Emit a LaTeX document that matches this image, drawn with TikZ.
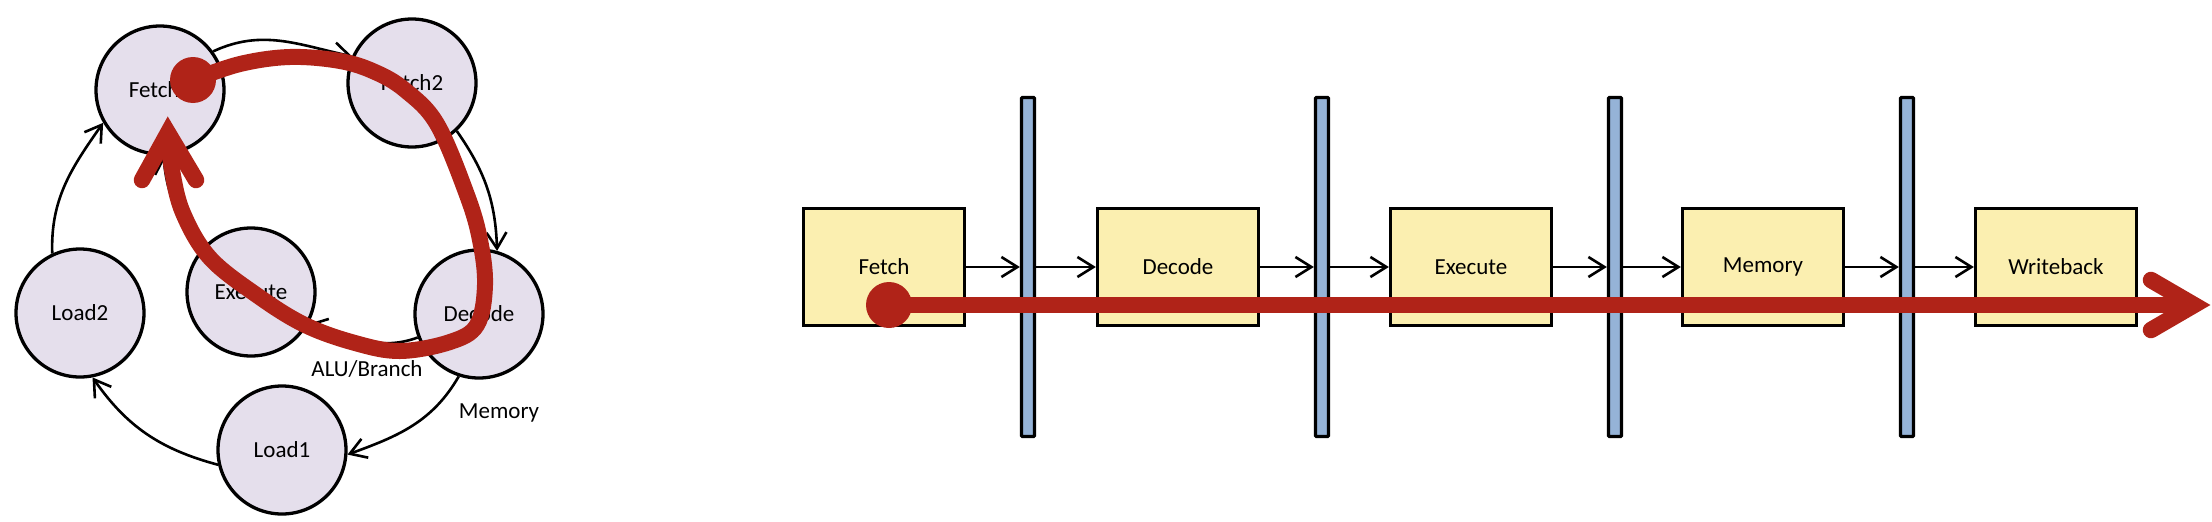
\documentclass[tikz,border=0pt]{standalone}
\usepackage{fontspec}
\setmainfont{Carlito}
\usetikzlibrary{arrows.meta}
\definecolor{lav}{RGB}{229,223,236}
\definecolor{yel}{RGB}{251,239,176}
\definecolor{blu}{RGB}{149,179,215}
\definecolor{rd}{RGB}{176,35,24}
\begin{document}
\begin{tikzpicture}[x=1pt,y=1pt,
 state/.style={circle,draw,line width=3.3pt,fill=lav,minimum size=128pt,inner sep=0pt,font=\fontsize{23}{28}\selectfont},
 stage/.style={rectangle,draw,line width=3.3pt,fill=yel,minimum width=161pt,minimum height=117pt,inner sep=0pt,font=\fontsize{23}{28}\selectfont},
 latch/.style={rectangle,draw,line width=3.3pt,fill=blu,minimum width=13pt,minimum height=339pt,inner sep=0pt,rounded corners=1pt},
 edge/.style={line width=2.6pt,-{Straight Barb[length=16pt,width=20pt]}},
 lbl/.style={font=\fontsize{23}{28}\selectfont,inner sep=0pt,anchor=base},
 redline/.style={draw=rd,line width=15.5pt},
 reddot/.style={circle,fill=rd,minimum size=46pt,inner sep=0pt}]
\useasboundingbox (0,0) rectangle (2212,-522);

% ---- state machine ----
\node[state] (f1) at (160,-90) {Fetch1};
\node[state] (f2) at (412,-83) {Fetch2};
\node[state] (l2) at (80,-313) {Load2};
\node[state] (ex) at (251,-292) {Execute};
\node[state] (de) at (479,-314) {Decode};
\node[state] (l1) at (282,-450) {Load1};

\draw[edge] (f1.36) to[out=25,in=168] (f2.156);
\draw[edge] (f2.-47) to[out=-55,in=92] (de.74);
\draw[edge] (de.201) to[out=200,in=-15] (ex.-29);
\draw[edge] (ex.143) to[out=120,in=-85] (f1.-87);
\draw[edge] (de.-108) to[out=-120,in=20] (l1.-4);
\draw[edge] (l1.193) to[out=165,in=-55] (l2.-79);
\draw[edge] (l2.115) to[out=92,in=-125] (f1.210);

\node[lbl] (alu) at (367,-376.5) {ALU/Branch};
\node[lbl] (mem) at (499,-418) {Memory};

% red loop
\node[reddot] (rd1) at (193,-80) {};
\coordinate (rv1) at (168,-133);
\coordinate (ra1) at (142,-180);
\coordinate (rb1) at (196,-180);
\draw[redline,line width=16pt,line cap=butt] plot[smooth,tension=0.6] coordinates {(rd1.center) (240,-64) (290,-57) (340,-61) (375,-72) (405,-90) (437,-124) (467,-195) (480,-240) (485,-285) (477,-325) (450,-342) (400,-351) (355,-343) (305,-325) (258,-296) (210,-258) (183,-213) (172,-170) (rv1)};
\draw[redline,line width=16.5pt,line cap=round,line join=miter] (ra1) -- (rv1) -- (rb1);

% ---- pipeline ----
\node[stage] (sf) at (884,-267) {Fetch};
\node[stage] (sd) at (1178,-267) {Decode};
\node[stage] (se) at (1471,-267) {Execute};
\node[stage] (sm) at (1763,-267) {Memory};
\node[stage] (sw) at (2056,-267) {Writeback};
\node[latch] (b1) at (1028,-267) {};
\node[latch] (b2) at (1322,-267) {};
\node[latch] (b3) at (1615,-267) {};
\node[latch] (b4) at (1907,-267) {};

\draw[edge] (sf.east) -- (b1.west);
\draw[edge] (b1.east) -- (sd.west);
\draw[edge] (sd.east) -- (b2.west);
\draw[edge] (b2.east) -- (se.west);
\draw[edge] (se.east) -- (b3.west);
\draw[edge] (b3.east) -- (sm.west);
\draw[edge] (sm.east) -- (b4.west);
\draw[edge] (b4.east) -- (sw.west);

\node[reddot] (rd2) at (889,-305) {};
\coordinate (rv2) at (2194,-305);
\coordinate (ra2) at (2151,-280);
\coordinate (rb2) at (2151,-330);
\draw[redline] (rd2.center) -- (rv2);
\draw[redline,line width=16.5pt,line cap=round,line join=miter] (ra2) -- (rv2) -- (rb2);
\end{tikzpicture}
\end{document}
